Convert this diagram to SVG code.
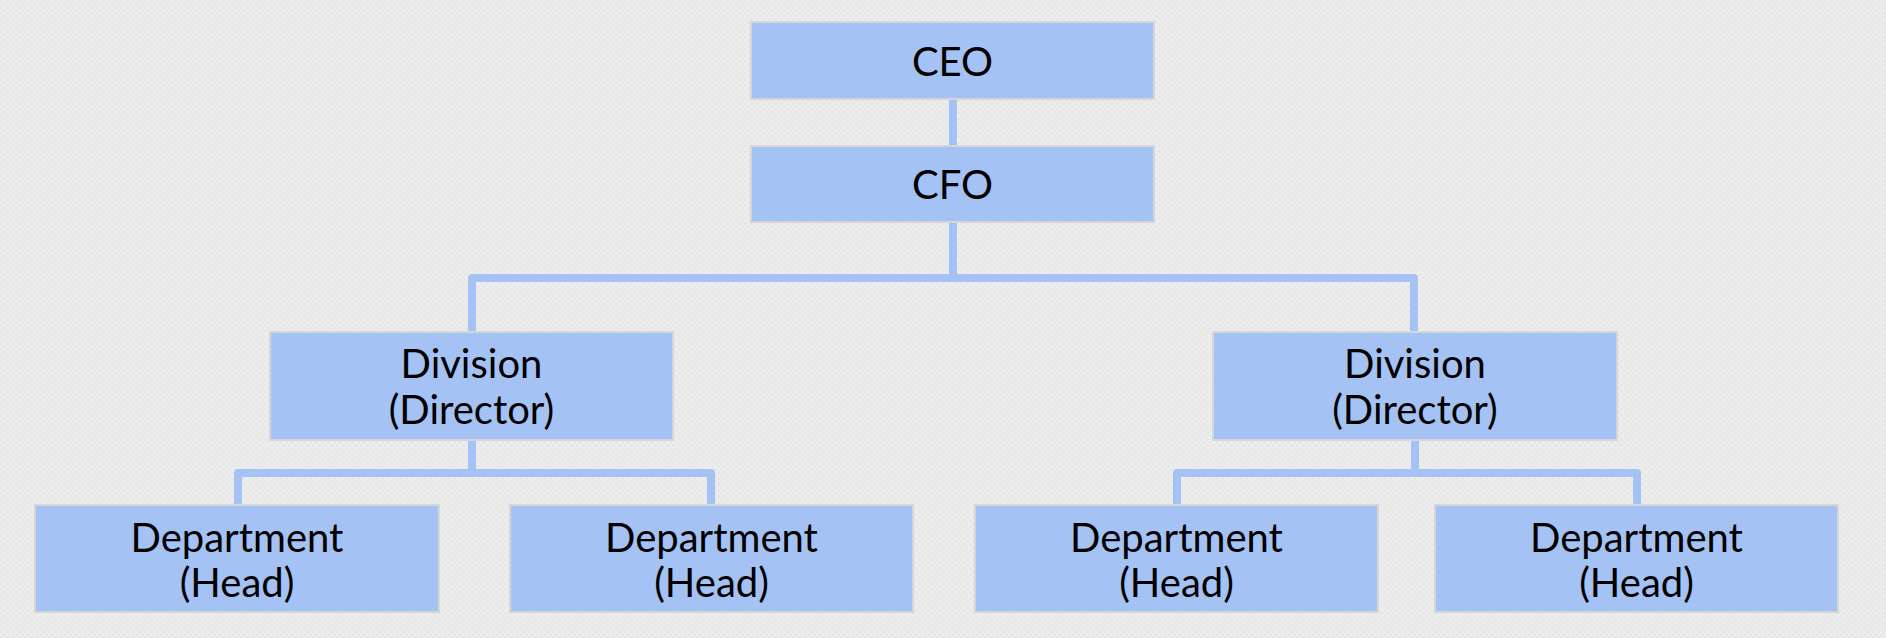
<svg xmlns="http://www.w3.org/2000/svg" width="1886" height="638" viewBox="0 0 1886 638">
<defs>
<pattern id="tex" width="6" height="6" patternUnits="userSpaceOnUse">
<rect width="6" height="6" fill="#ececec"/>
<circle cx="1.5" cy="1.5" r="1.1" fill="#e2e2e2"/>
<circle cx="4.5" cy="4.5" r="1.1" fill="#e2e2e2"/>
</pattern>
<style>
.box{fill:#a4c2f4;stroke:#d6d6d6;stroke-width:2}
.lbl{font-family:Lato,"Noto Sans","DejaVu Sans",sans-serif;font-size:40px;fill:#000;text-anchor:middle}
.conn{fill:none;stroke:#a4c2f4;stroke-width:8;stroke-linejoin:round}
</style>
</defs>
<rect width="1886" height="638" fill="url(#tex)"/>
<g id="connectors">
<path class="conn" d="M953 99 V146"/>
<path class="conn" d="M953 222 V278"/>
<path class="conn" d="M472 332 V278 H1414 V332"/>
<path class="conn" d="M472 440 V473"/>
<path class="conn" d="M238 505 V473 H711 V505"/>
<path class="conn" d="M1415 440 V473"/>
<path class="conn" d="M1177 505 V473 H1637 V505"/>
</g>
<g id="ceo">
<rect class="box" x="751" y="22" width="403" height="77"/>
<text class="lbl" x="952.5" y="76">CEO</text>
</g>
<g id="cfo">
<rect class="box" x="751" y="146" width="403" height="76"/>
<text class="lbl" x="952.5" y="199">CFO</text>
</g>
<g id="division-left">
<rect class="box" x="270" y="332" width="403" height="108"/>
<text class="lbl" x="471.5" y="378">Division</text>
<text class="lbl" x="471.5" y="424">(Director)</text>
</g>
<g id="division-right">
<rect class="box" x="1213" y="332" width="404" height="108"/>
<text class="lbl" x="1415" y="378">Division</text>
<text class="lbl" x="1415" y="424">(Director)</text>
</g>
<g id="dept-1">
<rect class="box" x="35" y="505" width="404" height="107"/>
<text class="lbl" x="237" y="552">Department</text>
<text class="lbl" x="237" y="597">(Head)</text>
</g>
<g id="dept-2">
<rect class="box" x="510" y="505" width="403" height="107"/>
<text class="lbl" x="711.5" y="552">Department</text>
<text class="lbl" x="711.5" y="597">(Head)</text>
</g>
<g id="dept-3">
<rect class="box" x="975" y="505" width="403" height="107"/>
<text class="lbl" x="1176.5" y="552">Department</text>
<text class="lbl" x="1176.5" y="597">(Head)</text>
</g>
<g id="dept-4">
<rect class="box" x="1435" y="505" width="403" height="107"/>
<text class="lbl" x="1636.5" y="552">Department</text>
<text class="lbl" x="1636.5" y="597">(Head)</text>
</g>
</svg>
